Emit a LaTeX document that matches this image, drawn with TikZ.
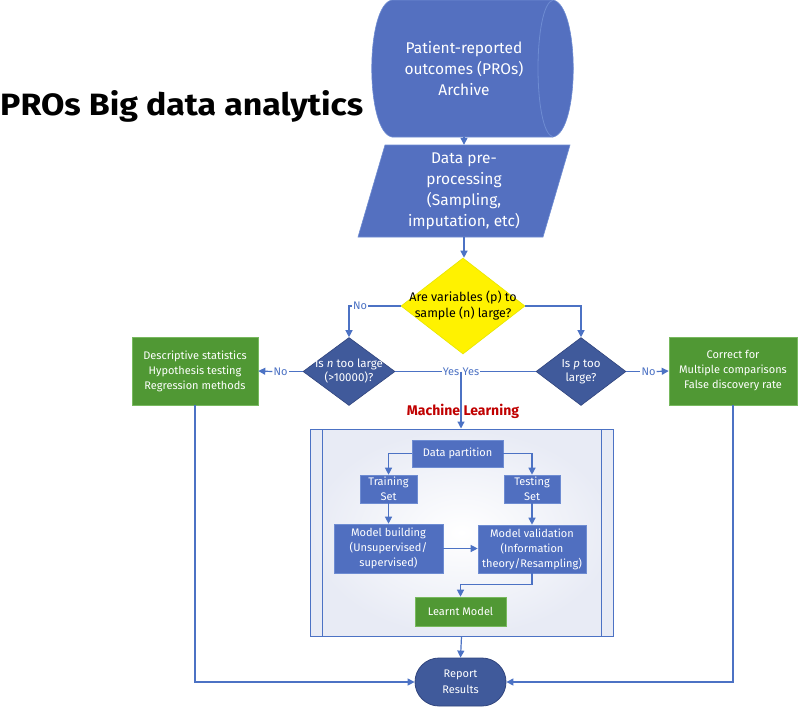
\documentclass[tikz,border=0pt]{standalone}
\usepackage{fontspec}
\setmainfont{Fira Sans}
\usetikzlibrary{arrows.meta,shapes.geometric,calc}
\definecolor{archblue}{RGB}{84,112,192}
\definecolor{boxblue}{RGB}{80,111,192}
\definecolor{boxedge}{RGB}{110,140,210}
\definecolor{darkblue}{RGB}{64,90,155}
\definecolor{darkedge}{RGB}{48,68,125}
\definecolor{grn}{RGB}{80,152,52}
\definecolor{grnedge}{RGB}{120,185,95}
\definecolor{lineblue}{RGB}{76,114,196}
\definecolor{mlred}{RGB}{192,0,0}
\definecolor{mlgrey}{RGB}{232,235,245}
\definecolor{yellowedge}{RGB}{230,230,0}
\begin{document}
\begin{tikzpicture}[x=1pt,y=-1pt,
  conn/.style={draw=lineblue, line width=1.2pt},
  arr/.style={conn, -{Triangle[length=7pt,width=7pt]}},
  lbl/.style={text=lineblue, font=\fontsize{11}{13}\selectfont, inner sep=1pt},
  bbox/.style={rectangle, fill=boxblue, draw=boxedge, line width=0.6pt, text=white, align=center, font=\fontsize{11}{15}\selectfont, inner sep=0},
  gbox/.style={bbox, fill=grn, draw=grnedge},
  dia/.style={diamond, fill=darkblue, draw=darkedge, line width=0.6pt, inner sep=0},
  dtxt/.style={text=white, align=center, font=\fontsize{11.5}{14}\selectfont, inner sep=0},
  bigtxt/.style={text=white, align=center, font=\fontsize{15.5}{21}\selectfont, inner sep=0}
]
\useasboundingbox (0,0) rectangle (800,712);
\fill[white] (0,0) rectangle (800,712);

% title
\node[anchor=base west, inner sep=0] (title) at (0,115)
  {\resizebox{363pt}{25pt}{\fontsize{36}{40}\selectfont\bfseries PROs Big data analytics}};

% archive (stored data)
\path[fill=archblue, draw=boxedge, line width=0.6pt]
  (392,0) -- (553,0) .. controls (580,5) and (580,132) .. (553,137)
  -- (392,137) .. controls (365,132) and (365,5) .. (392,0) -- cycle;
\draw[boxedge, line width=0.8pt] (553,0) .. controls (533,5) and (533,132) .. (553,137);
\node[bigtxt, minimum height=137] (arch) at (464,68.5) {Patient-reported\\outcomes (PROs)\\Archive};

% parallelogram
\path[fill=archblue, draw=boxedge, line width=0.6pt]
  (358,237) -- (385,145) -- (570,145) -- (543,237) -- cycle;
\node[bigtxt, minimum width=158, minimum height=92] (pp) at (464,191)
  {Data pre-\\processing\\(Sampling,\\imputation, etc)};

% decisions
\node[dia, fill=yellow, draw=yellowedge, minimum width=124, minimum height=96,
  label={[dtxt, text=black, font=\fontsize{12.5}{16}\selectfont]center:{Are variables (p) to\\sample (n) large?}}] (yd) at (463,306) {};
\node[dia, minimum width=92, minimum height=68,
  label={[dtxt]center:{Is \textit{n} too large\\(>10000)?}}] (ld) at (349,371.5) {};
\node[dia, minimum width=90, minimum height=68,
  label={[dtxt]center:{Is \textit{p} too\\large?}}] (rd) at (581,371.5) {};

% green side boxes
\node[gbox, minimum width=126, minimum height=68] (lg) at (195,371)
  {Descriptive statistics\\Hypothesis testing\\Regression methods};
\node[gbox, minimum width=128, minimum height=68] (rg) at (733,371)
  {Correct for\\Multiple comparisons\\False discovery rate};

% machine learning box
\node[rectangle, draw=lineblue, line width=1pt, inner color=white, outer color=mlgrey,
  minimum width=303, minimum height=207, inner sep=0] (ml) at (461.5,532.5) {};
\draw[lineblue, line width=1pt] (322,429) -- (322,636) (601,429) -- (601,636);
\node[font=\fontsize{14}{16}\selectfont\bfseries, text=mlred, inner sep=0] (mltitle) at (463,411) {Machine Learning};

\node[bbox, minimum width=91, minimum height=27] (dp) at (457.5,453.5) {Data partition};
\node[bbox, minimum width=57, minimum height=28] (tr) at (388.5,489) {Training\\Set};
\node[bbox, minimum width=56, minimum height=28] (te) at (532,489) {Testing\\Set};
\node[bbox, minimum width=109, minimum height=49] (mb) at (388.5,548.5) {Model building\\(Unsupervised/\\supervised)};
\node[bbox, minimum width=108, minimum height=48] (mv) at (532,549) {Model validation\\(Information\\theory/Resampling)};
\node[gbox, minimum width=91, minimum height=29] (lm) at (460.5,611.5) {Learnt Model};

% report
\node[rectangle, rounded corners=24pt, fill=darkblue, draw=darkedge, line width=0.8pt,
  minimum width=91, minimum height=48, text=white, align=center,
  font=\fontsize{11}{16}\selectfont, inner sep=0] (rep) at (460.5,682) {Report\\Results};

% labels
\node[lbl] (noA) at (360,306) {No};
\node[lbl] (noB) at (280.5,371.5) {No};
\node[lbl] (noC) at (648.5,371.5) {No};
\node[lbl, anchor=east] (yesL) at (460.5,371.5) {Yes};
\node[lbl, anchor=west] (yesR) at (461.5,371.5) {Yes};
\coordinate (yj) at (461,371.5);

% connectors
\draw[arr] (pp.north |- arch.south) -- (pp.north);
\draw[arr] (pp.south) -- (pp.south |- yd.north);
\draw[conn] (yd.west) -- (noA.east);
\draw[arr] (noA.west) -| (ld.north);
\draw[arr] (yd.east) -| (rd.north);
\draw[conn] (ld.west) -- (noB.east);
\draw[arr] (noB.west) -- (lg.east);
\draw[conn] (rd.east) -- (noC.west);
\draw[arr] (noC.east) -- (rg.west);
\draw[conn] (ld.east) -- (yesL.west);
\draw[conn] (rd.west) -- (yesR.east);
\draw[arr] (yj) -- (yj |- ml.north);
\draw[arr] (dp.west) -| (tr.north);
\draw[arr] (dp.east) -| (te.north);
\draw[arr] (tr.south) -- (mb.north);
\draw[arr] (te.south) -- (mv.north);
\draw[arr] (mb.east) -- (mb.east -| mv.west);
\draw[arr] (mv.south) -- ++(0,11) -| (lm.north);
\draw[arr] (ml.south) -- (rep.north);
\draw[arr] (lg.south) |- (rep.west);
\draw[arr] (rg.south) |- (rep.east);
\end{tikzpicture}
\end{document}
